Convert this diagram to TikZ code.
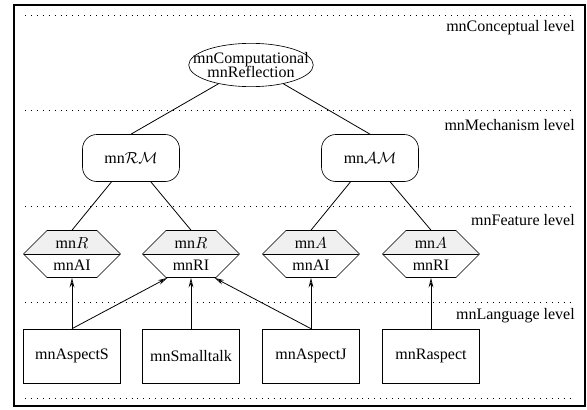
\documentclass[tikz,border=0pt]{standalone}
\usepackage{fontspec}
\setmainfont{Liberation Serif}
\usetikzlibrary{shapes.geometric, shapes.symbols, arrows.meta}

\begin{document}
\begin{tikzpicture}[
  x=0.625pt, y=-0.625pt,
  level/.style={anchor=east, inner sep=0pt},
  sep/.style={line width=0.6pt, dash pattern=on 0.6pt off 3.1pt},
  concept/.style={draw, ellipse, align=center, inner xsep=-8.6pt, inner ysep=1.8pt},
  mech/.style={draw, rounded corners=9pt, minimum width=60.6pt, minimum height=29.4pt},
  feature/.style={draw, signal, signal to=east and west, signal pointer angle=90,
    minimum width=60.6pt, minimum height=29.4pt, inner sep=0pt, align=center,
    path picture={
      \fill[gray!12] (path picture bounding box.north west) rectangle (path picture bounding box.east);
      \draw (path picture bounding box.west) -- (path picture bounding box.east);}},
  lang/.style={draw, minimum width=60.6pt, minimum height=33.75pt},
  link/.style={line width=0.5pt},
  impl/.style={line width=0.5pt, -{Stealth[open, length=6pt, width=3pt]}}
]
\useasboundingbox (0,0) rectangle (587,409);

% --- frame and level separators ---
\draw[line width=1.3pt] (14,5) rectangle (585,406);
\foreach \y in {15,110,206,302,398}
  \draw[sep] (25,\y) -- (574,\y);

\node[level] (lconc) at (575,28)  {mnConceptual level};
\node[level] (lmech) at (575,125) {mnMechanism level};
\node[level] (lfeat) at (575,220) {mnFeature level};
\node[level] (llang) at (575,316) {mnLanguage level};

% --- conceptual level ---
\node[concept] (refl) at (251,65) {mnComputational\\[-3.5pt]mnReflection};

% --- mechanism level ---
\node[mech] (rm) at (131,158) {mn$\mathcal{RM}$};
\node[mech] (am) at (370,158) {mn$\mathcal{AM}$};

% --- feature level ---
\node[feature] (rai) at (72,254)  {mn$R$\\[2pt]mnAI};
\node[feature] (rri) at (191,254) {mn$R$\\[2pt]mnRI};
\node[feature] (aai) at (311,254) {mn$A$\\[2pt]mnAI};
\node[feature] (ari) at (431,254) {mn$A$\\[2pt]mnRI};

% corners of the bottom edge of rri
\coordinate (rri-sw) at ([xshift=-14.7pt]rri.south);
\coordinate (rri-se) at ([xshift=14.7pt]rri.south);

% --- language level ---
\node[lang] (aspects)   at (72,356)  {mnAspectS};
\node[lang] (smalltalk) at (191,356) {mnSmalltalk};
\node[lang] (aspectj)   at (311,356) {mnAspectJ};
\node[lang] (raspect)   at (431,356) {mnRaspect};

% --- refinement links ---
\draw[link] (refl) -- (rm.north);
\draw[link] (refl) -- (am.north);
\draw[link] (rm) -- (rai.north);
\draw[link] (rm) -- (rri.north);
\draw[link] (am) -- (aai.north);
\draw[link] (am) -- (ari.north);

% --- implementations ---
\draw[impl] (aspects.north) -- (rai.south);
\draw[impl] (aspects.north) -- (rri-sw);
\draw[impl] (smalltalk.north) -- (rri.south);
\draw[impl] (aspectj.north) -- (rri-se);
\draw[impl] (aspectj.north) -- (aai.south);
\draw[impl] (raspect.north) -- (ari.south);

\end{tikzpicture}
\end{document}
